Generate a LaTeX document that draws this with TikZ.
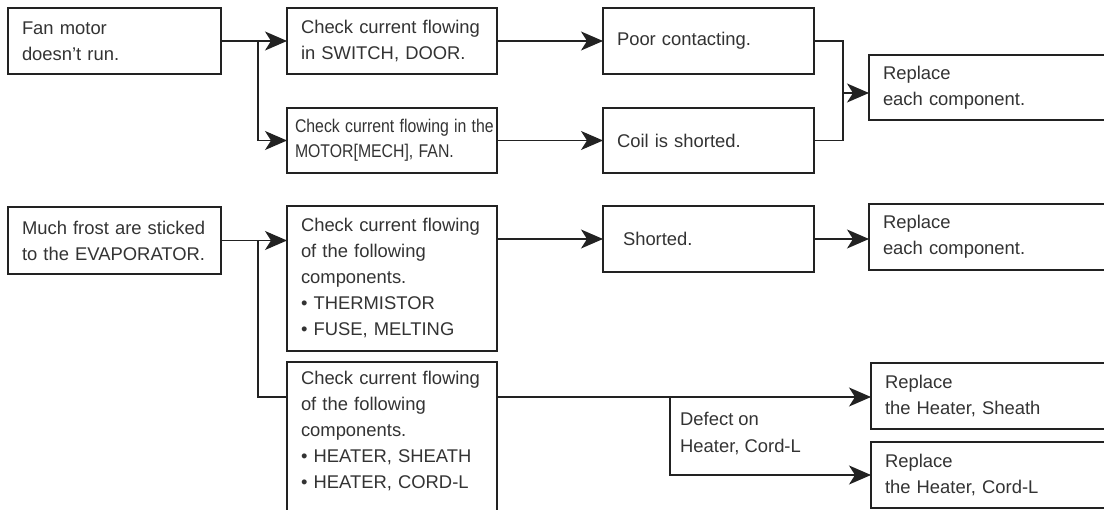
\documentclass[tikz,border=0pt]{standalone}
\usepackage{fontspec}
\usepackage{graphicx}
\setmainfont{Liberation Sans}
\usetikzlibrary{arrows.meta}
\definecolor{ink}{HTML}{333333}
\definecolor{edge}{HTML}{222222}
\newcommand{\narrowtext}[1]{\scalebox{0.86}[1]{#1}}
\begin{document}
\begin{tikzpicture}[x=1pt,y=-1pt,
  box/.style={draw=edge, line width=1.3pt, anchor=north west, outer sep=0pt,
    inner xsep=14pt, inner ysep=0pt, align=left, text=ink,
    font=\fontsize{18.4}{26}\selectfont},
  link/.style={draw=edge, line width=1.3pt},
  arr/.style={link, -{Stealth[length=22pt,width=19pt,inset=6pt]}}]
\clip (0,0) rectangle (1104,510);
\fill[white] (0,0) rectangle (1104,510);

% top chain
\node[box, minimum width=213pt, minimum height=66pt, text width=185pt] (A) at (8,8) {Fan motor\\doesn't run.};
\node[box, minimum width=210pt, minimum height=66pt, text width=182pt] (B) at (287,8) {Check current flowing\\in SWITCH, DOOR.};
\node[box, minimum width=210pt, minimum height=65pt, inner xsep=8pt, text width=194pt, font=\fontsize{18.4}{25}\selectfont] (C) at (287,108) {\narrowtext{Check current flowing in the}\\\narrowtext{MOTOR[MECH], FAN.}};
\node[box, minimum width=211pt, minimum height=66pt, text width=183pt] (D) at (603,8) {Poor contacting.};
\node[box, minimum width=211pt, minimum height=65pt, text width=183pt] (E) at (603,108) {Coil is shorted.};
\node[box, minimum width=260pt, minimum height=65pt, text width=232pt] (F) at (869,55) {Replace\\each component.};

% bottom chain
\node[box, minimum width=213pt, minimum height=67pt, text width=185pt] (G) at (8,207) {Much frost are sticked\\to the EVAPORATOR.};
\node[box, minimum width=210pt, minimum height=145pt, text width=182pt] (H) at (287,206) {Check current flowing\\of the following\\components.\\\textbullet\ THERMISTOR\\\textbullet\ FUSE, MELTING};
\node[box, minimum width=210pt, minimum height=152pt, text width=182pt] (I) at (287,362) {Check current flowing\\of the following\\components.\\\textbullet\ HEATER, SHEATH\\\textbullet\ HEATER, CORD-L\\[-10pt]\mbox{}};
\node[box, minimum width=211pt, minimum height=66pt, inner xsep=20pt, text width=171pt] (J) at (603,206) {Shorted.};
\node[box, minimum width=260pt, minimum height=66pt, text width=232pt] (K) at (869,204) {Replace\\each component.};
\node[box, minimum width=260pt, minimum height=66pt, text width=232pt] (L) at (871,363) {Replace\\the Heater, Sheath};
\node[box, minimum width=260pt, minimum height=66pt, text width=232pt] (M) at (871,442) {Replace\\the Heater, Cord-L};
\node[anchor=north west, inner sep=0pt, align=left, text=ink, font=\fontsize{18.4}{27}\selectfont] (N) at (680,411.5) {Defect on\\Heater, Cord-L};

% junction coordinates
\coordinate (j1) at (258,0);
\coordinate (m1) at (843,93);
\coordinate (r2) at (0,397);
\coordinate (b1) at (670,397);

% top connectors
\draw[arr] (A.east) -- (B.west);
\draw[arr] (A.east -| j1) |- (C.west);
\draw[arr] (B.east) -- (D.west);
\draw[arr] (C.east) -- (E.west);
\draw[link] (D.east) -| (m1);
\draw[link] (E.east) -| (m1);
\draw[arr] (m1) -- (m1 -| F.west);

% bottom connectors
\draw[arr] (G.east) -- (G.east -| H.west);
\draw[link] (G.east -| j1) |- (r2 -| I.west);
\draw[arr] (H.east |- J.west) -- (J.west);
\draw[arr] (J.east) -- (J.east -| K.west);
\draw[arr] (r2 -| I.east) -- (r2 -| L.west);
\draw[arr] (b1) |- (M.west);
\end{tikzpicture}
\end{document}
